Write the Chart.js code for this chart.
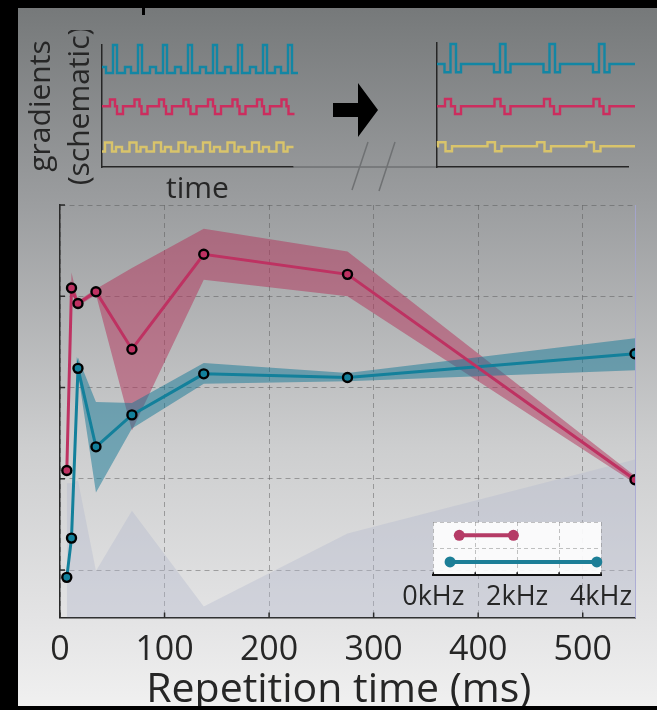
<!DOCTYPE html>
<html>
<head>
<meta charset="utf-8">
<script src="https://cdn.jsdelivr.net/npm/chart.js@4.4.1/dist/chart.umd.min.js"></script>
<style>
  html, body { margin: 0; padding: 0; background: #000; width: 657px; height: 710px; overflow: hidden; }
  #frame {
    position: absolute; left: 18px; top: 8px; width: 639px; height: 698px; overflow: hidden;
    background: linear-gradient(to bottom, #76797a 0%, #9a9c9e 27%, #cdcecf 63%, #e4e4e5 88%, #f0f0f0 100%);
  }
  #frame canvas { position: absolute; }
  #mark { position: absolute; left: 142px; top: 8px; width: 3px; height: 7px; background: #000; }
</style>
</head>
<body>
<div id="frame">
  <canvas id="main" width="639" height="533" style="left:0px;top:187px"></canvas>
  <canvas id="inset" width="250" height="110" style="left:377px;top:507px"></canvas>
  <canvas id="schemDense" width="420" height="185" style="left:2px;top:22px"></canvas>
  <canvas id="schemSparse" width="225" height="150" style="left:409px;top:22px"></canvas>
</div>
<div id="mark"></div>
<script>
// ---------- main panel data ----------
const TR_MS      = [6.5, 11, 17.2, 34.4, 68.8, 137.5, 275, 550];
const RED_MEAN   = [2.09, 4.09, 3.92, 4.05, 3.42, 4.46, 4.24, 1.99];
const RED_HIGH   = [2.10, 4.26, 3.95, 4.08, 4.31, 4.74, 4.49, 2.03];
const RED_LOW    = [2.08, 4.03, 3.89, 4.02, 2.53, 4.18, 4.00, 1.95];
const BLUE_MEAN  = [0.92, 1.35, 3.21, 2.35, 2.70, 3.15, 3.11, 3.37];
const BLUE_HIGH  = [0.93, 1.36, 3.33, 2.84, 2.83, 3.27, 3.16, 3.54];
const BLUE_LOW   = [0.91, 1.34, 3.16, 1.85, 2.55, 3.04, 3.07, 3.19];
const GREY_LEVEL = [1.95, 1.95, 1.98, 0.99, 1.65, 0.60, 1.40, 2.21];
const X_TICKS = [0, 100, 200, 300, 400, 500];
const Y_GRID  = [1, 2, 3, 4, 5];

// ---------- inset: bandwidth ranges ----------
const KHZ_TICKS   = [0, 1, 2, 3, 4];
const KHZ_LABELED = [0, 2, 4];
const RANGE_RED   = [0.62, 1.91];
const RANGE_BLUE  = [0.40, 3.90];
const INSET_GRID  = [0.5, 1];

// ---------- schematic gradient traces: [level, duration] ----------
const DENSE_BLUE = {
  levels: { base: 9.4, short: 10.0, tall: 12.2 },
  lead: [['short', 4], ['base', 7]],
  cycle: [['tall', 4], ['base', 8], ['short', 6], ['base', 7]], count: 7,
  tail: [['tall', 4], ['base', 6]]
};
const DENSE_RED = {
  levels: { mid: 6.07, high: 6.75, low: 5.3 },
  lead: [['mid', 8]],
  cycle: [['high', 5], ['mid', 2], ['low', 6], ['mid', 11.5]], count: 7,
  tail: [['high', 5], ['mid', 2], ['low', 6], ['mid', 3.5]]
};
const DENSE_YELLOW = {
  levels: { low: 1.55, mid: 2.0, high: 2.45 },
  lead: [['low', 3]],
  cycle: [['high', 7], ['low', 4], ['mid', 6], ['low', 7.5]], count: 7,
  tail: [['high', 7], ['low', 4], ['mid', 6], ['low', 4.5]]
};
const SPARSE_BLUE = {
  levels: { mid: 10.3, low: 9.47, high: 12.3 },
  lead: [['mid', 7.5]],
  cycle: [['low', 6], ['high', 5.5], ['low', 5], ['mid', 33]], count: 3,
  tail: [['low', 6], ['high', 5.5], ['low', 5], ['mid', 25.5]]
};
const SPARSE_RED = {
  levels: { mid: 6.07, high: 6.8, low: 5.3 },
  lead: [['mid', 8]],
  cycle: [['high', 6], ['mid', 4], ['low', 6], ['mid', 33.5]], count: 3,
  tail: [['high', 6], ['mid', 4], ['low', 6], ['mid', 25.5]]
};
const SPARSE_YELLOW = {
  levels: { mid: 2.07, high: 2.47, low: 1.57 },
  lead: [['mid', 1]],
  cycle: [['high', 7.5], ['low', 6.5], ['mid', 35.5]], count: 3,
  tail: [['high', 7.5], ['low', 6.5], ['mid', 34.5]]
};
// axis break, arrow (schematic time units / gradient levels)
const AXIS_END = 191, GAP_END = 335;
const BREAK_MARKS = [[266, 2.5, 250, -2.3], [293, 2.5, 277, -2.4]];
const ARROW = [[231, 6.4], [256, 6.4], [256, 8.4], [276, 5.7], [256, 3.0], [256, 5.0], [231, 5.0]];

// ---------- styling ----------
const TEXT = '#262626';
const RED_LINE = '#be3262', BLUE_LINE = '#13809b';
const RED_BAND = 'rgba(180,50,90,0.5)', BLUE_BAND = 'rgba(20,120,150,0.5)';
const GREY_AREA = 'rgba(178,184,205,0.38)';
const GRID = 'rgba(80,80,80,0.45)';
const WAVE = { blue: '#1386a4', red: '#cc2d5e', yellow: '#d9c46b' };

Chart.defaults.font.family = "'Open Sans', sans-serif";
Chart.defaults.color = TEXT;

function trace(w) {
  const segs = [...w.lead];
  for (let i = 0; i < w.count; i++) segs.push(...w.cycle);
  segs.push(...w.tail);
  const pts = [];
  let t = 0;
  segs.forEach(([lv, d]) => {
    pts.push({ x: t, y: w.levels[lv] }, { x: t + d, y: w.levels[lv] });
    t += d;
  });
  return pts;
}
const xy = (ys) => TR_MS.map((x, i) => ({ x, y: ys[i] }));

// ticks that point into the plot area
const innerTicks = {
  id: 'innerTicks',
  afterDraw(chart, args, opts) {
    const { ctx, chartArea } = chart;
    ctx.save();
    ctx.strokeStyle = opts.color;
    ctx.lineWidth = opts.width;
    (opts.axes || []).forEach(id => {
      const s = chart.scales[id];
      s.ticks.forEach(t => {
        const p = s.getPixelForValue(t.value);
        ctx.beginPath();
        if (s.isHorizontal()) {
          ctx.moveTo(p, chartArea.bottom);
          ctx.lineTo(p, chartArea.bottom - opts.length);
        } else {
          ctx.moveTo(chartArea.left, p);
          ctx.lineTo(chartArea.left + opts.length, p);
        }
        ctx.stroke();
      });
    });
    ctx.restore();
  }
};

const areaBackground = {
  id: 'areaBackground',
  beforeDraw(chart, args, opts) {
    const { ctx, chartArea: a } = chart;
    ctx.save();
    ctx.fillStyle = opts.color;
    ctx.fillRect(a.left, a.top, a.right - a.left, a.bottom - a.top);
    ctx.restore();
  }
};

// broken time axis and arrow between the two schematic panels
const schematicGap = {
  id: 'schematicGap',
  afterDraw(chart) {
    const { ctx, scales: { x, y } } = chart;
    const px = v => x.getPixelForValue(v), py = v => y.getPixelForValue(v);
    ctx.save();
    ctx.strokeStyle = '#6f7173';
    ctx.lineWidth = 1.5;
    ctx.beginPath();
    ctx.moveTo(px(AXIS_END), py(0));
    ctx.lineTo(px(GAP_END), py(0));
    BREAK_MARKS.forEach(([x1, y1, x2, y2]) => { ctx.moveTo(px(x1), py(y1)); ctx.lineTo(px(x2), py(y2)); });
    ctx.stroke();
    ctx.fillStyle = '#000';
    ctx.beginPath();
    ARROW.forEach(([a, b], i) => i ? ctx.lineTo(px(a), py(b)) : ctx.moveTo(px(a), py(b)));
    ctx.closePath();
    ctx.fill();
    ctx.restore();
  }
};

const quiet = { legend: { display: false }, tooltip: { enabled: false } };
const hiddenAxis = { grid: { display: false, drawTicks: false }, ticks: { display: false } };
const waveSet = (w, color) => ({ data: trace(w), borderColor: color, borderWidth: 2.4, pointRadius: 0, clip: false, tension: 0 });

// ---------- schematic: dense sequence ----------
new Chart(document.getElementById('schemDense'), {
  type: 'line',
  data: { datasets: [
    waveSet(DENSE_BLUE, WAVE.blue), waveSet(DENSE_RED, WAVE.red), waveSet(DENSE_YELLOW, WAVE.yellow)
  ] },
  plugins: [schematicGap],
  options: {
    responsive: false, animation: false, events: [],
    layout: { padding: { left: 2, right: 147, top: 15, bottom: 1 } },
    plugins: quiet,
    scales: {
      x: { type: 'linear', min: 0, max: AXIS_END, ...hiddenAxis,
           border: { display: true, color: TEXT, width: 1.5 },
           title: { display: true, text: 'time', color: TEXT, font: { size: 30, lineHeight: 1.2 }, padding: { top: 4, bottom: 7 } } },
      y: { min: 0, max: 12.2, ...hiddenAxis,
           border: { display: true, color: TEXT, width: 1.5 },
           title: { display: true, text: ['gradients', '(schematic)'], color: TEXT, font: { size: 30, lineHeight: 1.3 }, padding: { top: 0, bottom: 2 } } }
    }
  }
});

// ---------- schematic: sparse sequence ----------
new Chart(document.getElementById('schemSparse'), {
  type: 'line',
  data: { datasets: [
    waveSet(SPARSE_BLUE, WAVE.blue), waveSet(SPARSE_RED, WAVE.red), waveSet(SPARSE_YELLOW, WAVE.yellow)
  ] },
  options: {
    responsive: false, animation: false, events: [],
    layout: { padding: { left: 10, right: 24, top: 13, bottom: 13 } },
    plugins: quiet,
    scales: {
      x: { type: 'linear', min: 0, max: AXIS_END, ...hiddenAxis, border: { display: true, color: TEXT, width: 1.5 } },
      y: { min: 0, max: 12.4, ...hiddenAxis, border: { display: true, color: TEXT, width: 1.5 } }
    }
  }
});

// ---------- main panel ----------
const meanSet = (ys, color) => ({
  data: xy(ys), borderColor: color, borderWidth: 3, tension: 0, fill: false,
  pointRadius: 4.5, pointBorderWidth: 2.4, pointBorderColor: '#000', pointBackgroundColor: color
});
const edgeSet = (ys, fill, color) => ({
  data: xy(ys), borderWidth: 0, pointRadius: 0, tension: 0, fill, backgroundColor: color
});

new Chart(document.getElementById('main'), {
  type: 'line',
  data: { datasets: [
    meanSet(RED_MEAN, RED_LINE),
    meanSet(BLUE_MEAN, BLUE_LINE),
    edgeSet(BLUE_HIGH, '+1', BLUE_BAND),
    edgeSet(BLUE_LOW, false, BLUE_BAND),
    edgeSet(RED_HIGH, '+1', RED_BAND),
    edgeSet(RED_LOW, false, RED_BAND),
    edgeSet(GREY_LEVEL, 'start', GREY_AREA)
  ] },
  plugins: [innerTicks],
  options: {
    responsive: false, animation: false, events: [],
    layout: { padding: { left: 42, right: 22, top: 10, bottom: 15 } },
    plugins: { ...quiet, innerTicks: { axes: ['x', 'y'], length: 5, width: 1.5, color: '#2a2a2a' } },
    scales: {
      x: {
        type: 'linear', min: 0, max: 550,
        afterBuildTicks: s => { s.ticks = X_TICKS.map(v => ({ value: v })); },
        grid: { color: GRID, drawTicks: false, lineWidth: 1 },
        border: { display: true, color: '#2a2a2a', width: 1.5, dash: [5, 4] },
        ticks: { color: TEXT, font: { size: 34, lineHeight: 1.1 }, padding: 14, maxRotation: 0, autoSkip: false },
        title: { display: true, text: 'Repetition time (ms) \u2009', color: TEXT, font: { size: 41, lineHeight: 1.1 }, padding: { top: -15, bottom: 0 } }
      },
      y: {
        min: 0.48, max: 5,
        afterBuildTicks: s => { s.ticks = Y_GRID.map(v => ({ value: v })); },
        grid: { color: GRID, drawTicks: false, lineWidth: 1 },
        border: { display: true, color: '#2a2a2a', width: 1.5, dash: [5, 4] },
        ticks: { display: false }
      },
      y2: {
        position: 'right', min: 0.48, max: 5,
        grid: { display: false, drawTicks: false }, ticks: { display: false },
        border: { display: true, color: 'rgba(165,165,210,0.85)', width: 1 }
      }
    }
  }
});

// ---------- inset: frequency ranges ----------
new Chart(document.getElementById('inset'), {
  type: 'line',
  data: { datasets: [
    { data: RANGE_RED.map(x => ({ x, y: 0.75 })), borderColor: '#b53b66', backgroundColor: '#b53b66',
      borderWidth: 4, pointRadius: 5.5, pointBorderWidth: 0, clip: false },
    { data: RANGE_BLUE.map(x => ({ x, y: 0.25 })), borderColor: '#1d7f97', backgroundColor: '#1d7f97',
      borderWidth: 4, pointRadius: 5.5, pointBorderWidth: 0, clip: false }
  ] },
  plugins: [areaBackground, innerTicks],
  options: {
    responsive: false, animation: false, events: [],
    layout: { padding: { left: 38.3, right: 44, top: 7, bottom: 5.6 } },
    plugins: { ...quiet, areaBackground: { color: 'rgba(255,255,255,0.9)' },
               innerTicks: { axes: ['x'], length: 3, width: 1.5, color: '#111' } },
    scales: {
      x: {
        type: 'linear', min: 0, max: 4,
        afterBuildTicks: s => { s.ticks = KHZ_TICKS.map(v => ({ value: v })); },
        grid: { color: 'rgba(120,120,120,0.45)', drawTicks: false },
        border: { display: true, color: '#111', width: 2, dash: [4, 3] },
        ticks: { color: TEXT, font: { size: 27, lineHeight: 1.1 }, padding: 7.2, maxRotation: 0, autoSkip: false,
                 callback: v => KHZ_LABELED.includes(v) ? v + 'kHz' : '' }
      },
      y: {
        min: 0, max: 1,
        afterBuildTicks: s => { s.ticks = INSET_GRID.map(v => ({ value: v })); },
        grid: { color: 'rgba(120,120,120,0.45)', drawTicks: false },
        border: { display: false, dash: [4, 3] },
        ticks: { display: false }
      }
    }
  }
});
</script>
</body>
</html>
